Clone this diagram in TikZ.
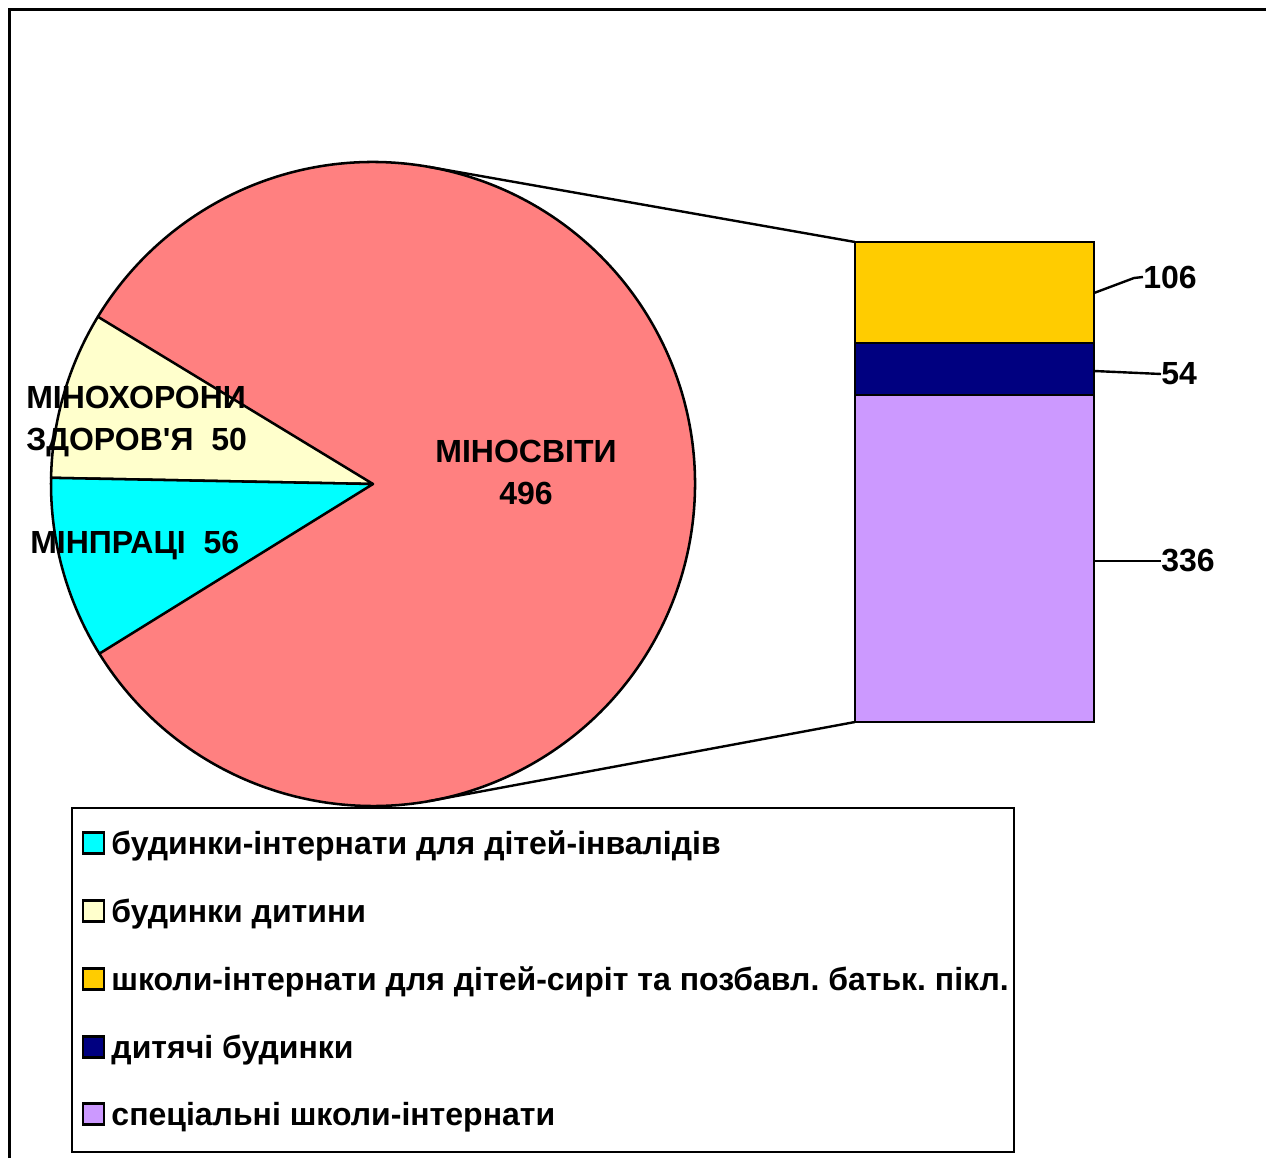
\documentclass[tikz,border=0pt]{standalone}
\usepackage{fontspec}
\setmainfont{Liberation Sans}
\usetikzlibrary{positioning,calc}
\frenchspacing

\definecolor{pieRed}{HTML}{FF8080}
\definecolor{pieCream}{HTML}{FFFFCC}
\definecolor{pieCyan}{HTML}{00FFFF}
\definecolor{barGold}{HTML}{FFCC00}
\definecolor{barNavy}{HTML}{000080}
\definecolor{barLilac}{HTML}{CC99FF}

\begin{document}
\begin{tikzpicture}[x=0.75pt, y=0.75pt, every node/.style={font=\bfseries\fontsize{24}{31.5}\selectfont, inner sep=0pt}, slice/.style={draw, line width=1.9pt, line join=round}, seg/.style={draw, line width=2pt}, key/.style={draw, line width=1.8pt, minimum width=15.75pt, minimum height=15.75pt}, lead/.style={line width=1.8pt}, entry/.style={yshift=-2.2pt}]
	\useasboundingbox (0,0) rectangle (1266,1158);
	\draw[line width=2.25pt] (9,0) |- (1266,1148);
	% pie
	\coordinate (O) at (373,674);
	\fill[pieRed] (O) -- ++(211.8:322) arc (211.8:508.7:322) -- cycle;
	\draw[slice, fill=pieCream] (O) -- ++(148.7:322) arc (148.7:178.9:322) -- cycle;
	\draw[slice, fill=pieCyan] (O) -- ++(178.9:322) arc (178.9:211.8:322) -- cycle;
	\draw[slice] (O) ++(211.8:322) arc (211.8:508.7:322);
	\coordinate (pt) at ($(O)+(80:322)$);
	\coordinate (pb) at ($(O)+(-80:322)$);
	% bar
	\draw[seg, fill=barGold] (855,815) rectangle (1094,916);
	\draw[seg, fill=barNavy] (855,763) rectangle (1094,815);
	\draw[seg, fill=barLilac] (855,436) rectangle (1094,763);
	\coordinate (bt) at (855,916);
	\coordinate (bb) at (855,436);
	\draw[lead] (pt) -- (bt);
	\draw[lead] (pb) -- (bb);
	% labels
	\node[anchor=west, align=left] (zdor) at (26,736) {МІНОХОРОНИ\\ЗДОРОВ\textquotesingle Я\ \ 50};
	\node[anchor=west] (prac) at (30,612) {МІНПРАЦІ\ \ 56};
	\node[align=center] (osv) at (526,686) {МІНОСВІТИ\\496};
	\node[anchor=west] (v106) at (1143,881) {106};
	\node[anchor=west] (v54) at (1161,784) {54};
	\node[anchor=west] (v336) at (1161,597) {336};
	\coordinate (a106) at (1094,865);
	\coordinate (a54) at (1094,787);
	\coordinate (a336) at (1094,597);
	\draw[lead] (a106) -- (1134,880) -- (v106.west);
	\draw[lead] (a54) -- (v54.west);
	\draw[lead] (a336) -- (v336.west);
	% legend
	\draw[line width=1.9pt] (72,6) rectangle (1014,350);
	\node[key, fill=pieCyan] (k1) at (93.5,315) {};
	\node[key, fill=pieCream] (k2) at (93.5,247) {};
	\node[key, fill=barGold] (k3) at (93.5,179) {};
	\node[key, fill=barNavy] (k4) at (93.5,111) {};
	\node[key, fill=barLilac] (k5) at (93.5,44) {};
	\node[entry, right=4.5pt of k1] (t1) {будинки-інтернати для дітей-інвалідів};
	\node[entry, right=4.5pt of k2] (t2) {будинки дитини};
	\node[entry, right=4.5pt of k3] (t3) {школи-інтернати для дітей-сиріт та позбавл. батьк. пікл.};
	\node[entry, right=4.5pt of k4] (t4) {дитячі будинки};
	\node[entry, right=4.5pt of k5] (t5) {спеціальні школи-інтернати};
\end{tikzpicture}
\end{document}
